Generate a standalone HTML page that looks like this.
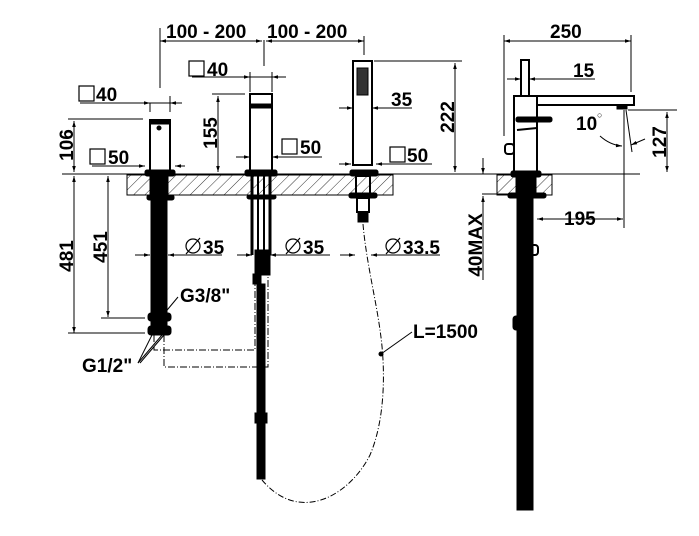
<!DOCTYPE html>
<html><head><meta charset="utf-8"><style>
html,body{margin:0;padding:0;background:#fff}
svg text{font-family:"Liberation Sans",Arial,sans-serif;font-weight:bold;fill:#000}
</style></head><body>
<svg width="699" height="531" viewBox="0 0 699 531" xmlns="http://www.w3.org/2000/svg">
<defs>
<pattern id="h" width="8" height="8" patternUnits="userSpaceOnUse" patternTransform="rotate(45)">
<line x1="0" y1="0" x2="0" y2="8" stroke="#000" stroke-width="0.8"/></pattern>
<marker id="a" viewBox="0 0 10 10" refX="10" refY="5" markerWidth="9" markerHeight="6" orient="auto-start-reverse"><path d="M0,2 L10,5 L0,8z" fill="#000"/></marker>
</defs>
<g stroke="#000" fill="none" stroke-width="1">
<rect x="127" y="175" width="266" height="20" fill="url(#h)"/>
<rect x="497" y="175" width="55" height="20" fill="url(#h)"/>
<line x1="62" y1="174" x2="640" y2="174"/>
<line x1="160" y1="28" x2="160" y2="88"/>
<line x1="264" y1="40" x2="264" y2="66"/>
<line x1="364" y1="36" x2="364" y2="55"/>
<line x1="160" y1="41" x2="262" y2="41" marker-start="url(#a)" marker-end="url(#a)"/>
<line x1="266" y1="41" x2="364" y2="41" marker-start="url(#a)" marker-end="url(#a)"/>
<rect x="150" y="120" width="20" height="52" stroke-width="2"/>
<rect x="150" y="120" width="20" height="4" fill="#000"/>
<circle cx="159" cy="128" r="2" fill="#000"/>
<rect x="145" y="170" width="30" height="6" fill="#000" rx="2"/>
<rect x="150" y="176" width="18" height="20" fill="#000"/>
<rect x="147" y="195" width="27" height="5" fill="#000" rx="2"/>
<rect x="151" y="200" width="16" height="115" fill="#000"/>
<rect x="148" y="313" width="23" height="8" fill="#000" rx="3"/>
<rect x="151" y="321" width="16" height="5" fill="#000"/>
<rect x="148" y="326" width="23" height="9" fill="#000" rx="3"/>
<line x1="80" y1="103" x2="180" y2="103"/>
<line x1="150" y1="103" x2="150" y2="112"/><line x1="170" y1="96" x2="170" y2="112"/>
<line x1="138" y1="103" x2="150" y2="103" marker-end="url(#a)"/><line x1="182" y1="103" x2="170" y2="103" marker-end="url(#a)"/>
<line x1="68" y1="119" x2="143" y2="119"/>
<line x1="74" y1="121" x2="74" y2="172" marker-start="url(#a)" marker-end="url(#a)"/>
<line x1="92" y1="166" x2="145" y2="166"/>
<line x1="132" y1="166" x2="145" y2="166" marker-end="url(#a)"/><line x1="185" y1="166" x2="175" y2="166" marker-end="url(#a)"/>
<line x1="74" y1="176" x2="74" y2="333" marker-start="url(#a)" marker-end="url(#a)"/>
<line x1="68" y1="333" x2="145" y2="333"/>
<line x1="108" y1="176" x2="108" y2="317" marker-start="url(#a)" marker-end="url(#a)"/>
<line x1="101" y1="318" x2="145" y2="318"/>
<rect x="250" y="94" width="22" height="78" stroke-width="2"/>
<rect x="250" y="104" width="22" height="4" fill="#000"/>
<rect x="245" y="170" width="32" height="6" fill="#000" rx="2"/>
<line x1="252" y1="176" x2="252" y2="255" stroke-width="3"/>
<line x1="270" y1="176" x2="270" y2="255" stroke-width="3"/>
<line x1="258" y1="176" x2="258" y2="250" stroke-width="2"/>
<line x1="264" y1="176" x2="264" y2="250" stroke-width="2"/>
<rect x="247" y="195" width="29" height="4" fill="#000" rx="2"/>
<rect x="255" y="250" width="15" height="25" fill="#000"/>
<rect x="253" y="274" width="8" height="10" fill="#000"/>
<rect x="257" y="284" width="8" height="195" fill="#000"/>
<rect x="255" y="413" width="12" height="10" fill="#000"/>
<line x1="192" y1="77" x2="286" y2="77"/>
<line x1="238" y1="77" x2="250" y2="77" marker-end="url(#a)"/><line x1="284" y1="77" x2="272" y2="77" marker-end="url(#a)"/>
<line x1="250" y1="72" x2="250" y2="92"/><line x1="272" y1="72" x2="272" y2="92"/>
<line x1="212" y1="94" x2="245" y2="94"/>
<line x1="218" y1="96" x2="218" y2="172" marker-start="url(#a)" marker-end="url(#a)"/>
<line x1="236" y1="157" x2="250" y2="157" marker-end="url(#a)"/><line x1="285" y1="157" x2="272" y2="157" marker-end="url(#a)"/>
<line x1="272" y1="157" x2="322" y2="157"/>
<rect x="353" y="61" width="19" height="104" stroke-width="2"/>
<rect x="357" y="68" width="11" height="27" fill="#333"/>
<rect x="350" y="170" width="28" height="6" fill="#000" rx="2"/>
<rect x="356" y="176" width="14" height="18" stroke-width="2"/>
<rect x="349" y="193" width="28" height="5" fill="#000" rx="2"/>
<rect x="357" y="198" width="12" height="14" stroke-width="2"/>
<rect x="358" y="212" width="10" height="10" fill="#000"/>
<line x1="374" y1="61" x2="462" y2="61"/>
<line x1="455" y1="63" x2="455" y2="172" marker-start="url(#a)" marker-end="url(#a)"/>
<line x1="339" y1="108" x2="353" y2="108" marker-end="url(#a)"/><line x1="386" y1="108" x2="372" y2="108" marker-end="url(#a)"/>
<line x1="372" y1="108" x2="412" y2="108"/>
<line x1="339" y1="164" x2="351" y2="164" marker-end="url(#a)"/><line x1="390" y1="164" x2="376" y2="164" marker-end="url(#a)"/>
<line x1="376" y1="164" x2="432" y2="164"/>
<line x1="135" y1="255" x2="150" y2="255" marker-end="url(#a)"/><line x1="182" y1="255" x2="168" y2="255" marker-end="url(#a)"/><line x1="168" y1="255" x2="222" y2="255"/>
<line x1="237" y1="255" x2="252" y2="255" marker-end="url(#a)"/><line x1="284" y1="255" x2="270" y2="255" marker-end="url(#a)"/><line x1="270" y1="255" x2="330" y2="255"/>
<line x1="340" y1="255" x2="355" y2="255" marker-end="url(#a)"/><line x1="385" y1="255" x2="371" y2="255" marker-end="url(#a)"/><line x1="371" y1="255" x2="440" y2="255"/>
<path d="M363,224 C366,260 376,300 380,330 C386,370 385,420 370,455 C350,495 300,525 262,480" stroke-dasharray="6,2,1,2"/>
<circle cx="381" cy="354" r="2" fill="#000"/>
<line x1="381" y1="354" x2="412" y2="332"/>
<path d="M154,335 V350 H255 V282" stroke-dasharray="7,2,1,2"/>
<path d="M164,335 V367 H268 V270" stroke-dasharray="7,2,1,2"/>
<line x1="163" y1="315" x2="178" y2="297"/>
<line x1="152" y1="335" x2="138" y2="363"/><line x1="162" y1="335" x2="138" y2="363"/><line x1="164" y1="335" x2="140" y2="363"/>
<rect x="521" y="60" width="8" height="36" stroke-width="2"/>
<rect x="514" y="96" width="23" height="76" stroke-width="2"/>
<path d="M537,96 H634 V105 H537" stroke-width="2"/>
<rect x="617" y="105" width="10" height="4" fill="#000"/>
<rect x="516" y="117" width="36" height="5" fill="#000" rx="2"/>
<path d="M517,130 L537,128" stroke-width="2"/>
<rect x="505" y="144" width="9" height="10" stroke-width="2" rx="3"/>
<rect x="511" y="171" width="30" height="6" fill="#000" rx="2"/>
<rect x="516" y="177" width="20" height="18" fill="#000"/>
<rect x="508" y="193" width="38" height="5" fill="#000" rx="2"/>
<rect x="517" y="198" width="16" height="312" fill="#000"/>
<rect x="530" y="245" width="8" height="10" stroke-width="2" rx="3"/>
<rect x="513" y="316" width="14" height="14" fill="#000" rx="3"/>
<line x1="504" y1="35" x2="504" y2="136"/>
<line x1="631" y1="35" x2="631" y2="92"/>
<line x1="504" y1="41" x2="631" y2="41" marker-start="url(#a)" marker-end="url(#a)"/>
<line x1="507" y1="79" x2="521" y2="79" marker-end="url(#a)"/><line x1="543" y1="79" x2="529" y2="79" marker-end="url(#a)"/><line x1="529" y1="79" x2="595" y2="79"/>
<line x1="624" y1="110" x2="624" y2="228"/>
<line x1="628" y1="110" x2="677" y2="110"/>
<line x1="667" y1="112" x2="667" y2="172" marker-start="url(#a)" marker-end="url(#a)"/>
<line x1="626" y1="110" x2="632" y2="152"/>
<path d="M600,136 Q610,145 622,146" marker-end="url(#a)"/>
<line x1="645" y1="139" x2="631" y2="145" marker-end="url(#a)"/>
<line x1="537" y1="219" x2="623" y2="219" marker-start="url(#a)" marker-end="url(#a)"/>
<line x1="482" y1="194" x2="511" y2="194"/>
<line x1="483" y1="158" x2="483" y2="174" marker-end="url(#a)"/>
<line x1="483" y1="210" x2="483" y2="196" marker-end="url(#a)"/>
<line x1="483" y1="210" x2="483" y2="280"/>
</g>
<g stroke="#000" fill="none" stroke-width="1.2">
<rect x="79" y="86" width="15" height="15"/>
<rect x="189" y="61" width="15" height="15"/>
<rect x="90" y="149" width="15" height="15"/>
<rect x="282" y="139" width="15" height="15"/>
<rect x="390" y="147" width="15" height="15"/>
<circle cx="193" cy="246" r="7"/><line x1="186" y1="254" x2="200" y2="238"/>
<circle cx="293" cy="246" r="7"/><line x1="286" y1="254" x2="300" y2="238"/>
<circle cx="393" cy="246" r="7"/><line x1="386" y1="254" x2="400" y2="238"/>
</g>
<g font-size="19">
<text x="166" y="38">100 - 200</text>
<text x="267" y="38">100 - 200</text>
<text x="207" y="76">40</text>
<text x="96" y="101">40</text>
<text x="108" y="164">50</text>
<text x="300" y="154">50</text>
<text x="407" y="162">50</text>
<text x="391" y="106">35</text>
<text x="203" y="254">35</text>
<text x="303" y="254">35</text>
<text x="403" y="254">33.5</text>
<text x="180" y="302">G3/8"</text>
<text x="82" y="372">G1/2"</text>
<text x="413" y="338">L=1500</text>
<text x="550" y="38">250</text>
<text x="573" y="77">15</text>
<text x="576" y="130">10</text>
<text x="564" y="225">195</text>
<text transform="translate(73,145) rotate(-90)" text-anchor="middle">106</text>
<text transform="translate(217,133) rotate(-90)" text-anchor="middle">155</text>
<text transform="translate(454,117) rotate(-90)" text-anchor="middle">222</text>
<text transform="translate(73,256) rotate(-90)" text-anchor="middle">481</text>
<text transform="translate(107,247) rotate(-90)" text-anchor="middle">451</text>
<text transform="translate(666,142) rotate(-90)" text-anchor="middle">127</text>
<text transform="translate(482,245) rotate(-90)" text-anchor="middle">40MAX</text>
</g>
<text x="597" y="118" font-size="9" style="font-weight:normal">○</text>
</svg>
</body></html>
